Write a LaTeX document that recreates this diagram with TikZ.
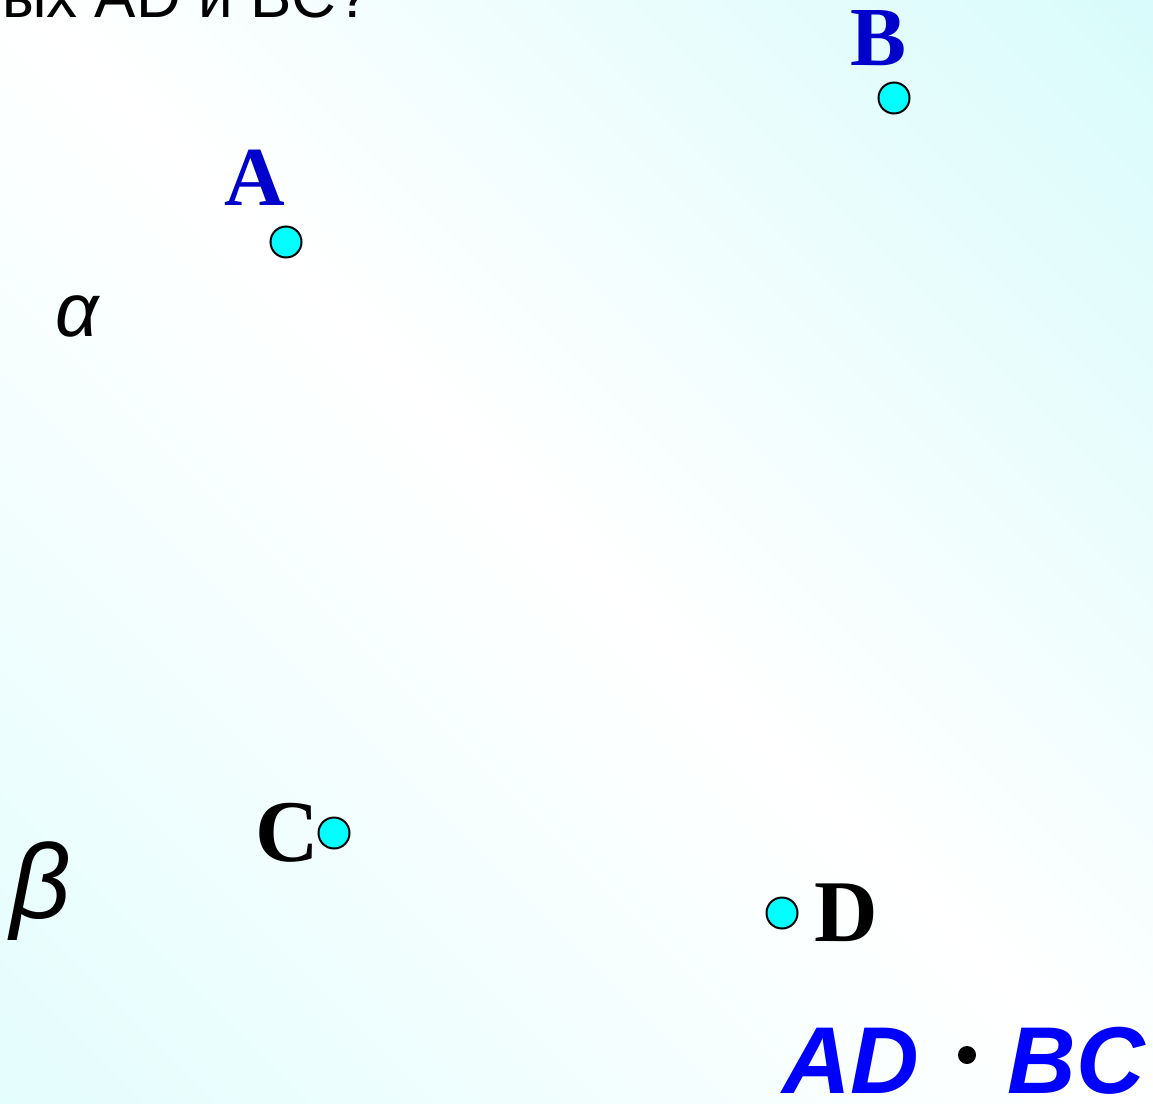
\documentclass[tikz,border=0pt]{standalone}
\usepackage{fontspec}
\setmainfont{Liberation Serif}
\newfontfamily\arialfont{Liberation Sans}
\usetikzlibrary{positioning}
\definecolor{bgtop}{RGB}{214,251,251}
\definecolor{bgbot}{RGB}{226,253,253}
\definecolor{labelblue}{RGB}{0,0,204}
\definecolor{pointcyan}{RGB}{0,255,255}

\begin{document}
\begin{tikzpicture}[x=1pt,y=-1pt,
	  every node/.style={inner sep=0pt,outer sep=0pt},
	  point/.style={circle,fill=pointcyan,draw=black,line width=2pt,minimum size=31pt},
	  bluelabel/.style={anchor=base,text=labelblue,font=\fontsize{84}{84}\selectfont\bfseries},
	  blacklabel/.style={anchor=base,text=black,font=\fontsize{88}{88}\selectfont\bfseries},
	  plane/.style={anchor=base,text=black},
	  formula/.style={text=blue,font=\arialfont\fontsize{95}{95}\selectfont\bfseries\itshape}]

	  % background and frame
	  \useasboundingbox (0,0) rectangle (1153,1103);
	  \clip (0,0) rectangle (1153,1103);
	  \shade[top color=bgtop,bottom color=bgbot,middle color=white,shading angle=-45] (-300,-300) rectangle (1453,1403);

	  % question line, cut at the top
	  \node[anchor=base west,font=\arialfont\fontsize{62}{62}\selectfont] (question) at (2,17) {ых AD и BC?};

	  % planes
	  \node[plane,font=\arialfont\fontsize{76}{76}\selectfont\itshape] (alpha) at (77,336) {α};
	  \node[plane,font=\arialfont\fontsize{106}{106}\selectfont\itshape] (beta) at (41,918) {β};

	  % points and their labels
	  \node[point] (A) at (286,242) {};
	  \node[point] (B) at (894,98) {};
	  \node[point] (C) at (334,833) {};
	  \node[point] (D) at (782,913) {};
	  \node[bluelabel] (labelA) at (255,205) {A};
	  \node[bluelabel] (labelB) at (879,65) {B};
	  \node[blacklabel] (labelC) at (287,861) {C};
	  \node[blacklabel] (labelD) at (846,941) {D};

	  % formula
	  \node[formula,anchor=base west] (AD) at (782,1093) {AD};
	  \node[circle,fill=black,minimum size=18pt] (dot) at (967,1055) {};
	  \node[formula,anchor=base east] (BC) at (1145,1093) {BC};
\end{tikzpicture}
\end{document}
